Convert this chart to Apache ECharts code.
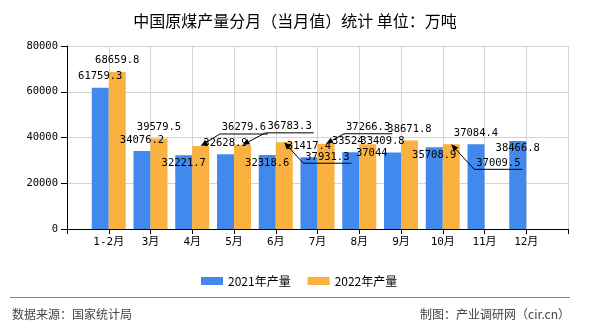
<!DOCTYPE html>
<html>
<head>
<meta charset="utf-8">
<script src="https://cdn.jsdelivr.net/npm/echarts@6/dist/echarts.min.js"></script>
<style>
html,body{margin:0;padding:0;background:#fff;}
#c{width:590px;height:330px;}
</style>
</head>
<body>
<div id="c"></div>
<script>
// ---- data ----
const months = ['1-2月','3月','4月','5月','6月','7月','8月','9月','10月','11月','12月'];
const output2021 = [61759.3, 34076.2, 32221.7, 32628.9, 32318.6, 31417.4, 33524, 33409.8, 35708.9, 37084.4, 38466.8];
const output2022 = [68659.8, 39579.5, 36279.6, 36783.3, 37931.3, 37266.3, 37044, 38671.8, 37009.5];
const seriesNames = ['2021年产量', '2022年产量'];
const yTicks = [0, 20000, 40000, 60000, 80000];

// ---- styling / layout config ----
const COLORS = ['#4289EE', '#FBB13F'];
const MONO = "'DejaVu Sans Mono', 'Noto Sans CJK SC', monospace";
const SANS = "'Noto Sans CJK SC', 'Noto Sans', sans-serif";
const BAR_W = 17;
const VAL_FONT = 10.5;
// label nudges (dx, dy) per series / month
const labelShift = {
  0: {'4月': [0, 19], '6月': [0, 19], '8月': [-3, 0], '9月': [-10, 0], '10月': [0, 19], '12月': [0, 19]},
  1: {'8月': [4, 20]}
};
// callout elbow offsets relative to bar top (2022 series)
const calloutOffset = {'4月': [19, -12], '5月': [23, -12], '6月': [19, 21], '7月': [18, -10], '10月': [23, 25]};

const axisCats = [''].concat(months, ['']);
const pad = (arr) => [null].concat(arr, new Array(axisCats.length - 1 - arr.length).fill(null));

const data2021 = pad(output2021);
const data2022 = pad(output2022.map((v, i) =>
  calloutOffset[months[i]] ? {value: v, label: {show: false}} : v));

const calloutData = Object.keys(calloutOffset).map(m => [m, output2022[months.indexOf(m)]]);

const chart = echarts.init(document.getElementById('c'));

function labelLayoutFor(si) {
  return function (p) {
    const m = axisCats[p.dataIndex];
    const s = labelShift[si][m];
    return s ? {dx: s[0], dy: s[1]} : {};
  };
}

chart.setOption({
  animation: false,
  backgroundColor: '#fff',
  title: {
    text: '中国原煤产量分月（当月值）统计 单位：万吨',
    left: 'center',
    top: 8,
    textStyle: {fontFamily: SANS, fontSize: 16, fontWeight: 'normal', color: '#000'}
  },
  legend: {
    data: seriesNames,
    left: 196,
    top: 270,
    icon: 'rect',
    itemWidth: 22,
    itemHeight: 8,
    itemGap: 17,
    textStyle: {fontFamily: SANS, fontSize: 12, color: '#000'}
  },
  grid: {left: 67, right: 22, top: 46, bottom: 101, containLabel: false},
  xAxis: {
    type: 'category',
    data: axisCats,
    boundaryGap: false,
    axisLine: {lineStyle: {color: '#000', width: 1}},
    axisTick: {show: true, length: 5, lineStyle: {color: '#000'}},
    axisLabel: {interval: 0, margin: 8, fontFamily: MONO, fontSize: 11, color: '#000'},
    splitLine: {show: true, lineStyle: {color: '#d4d4d4', width: 1}}
  },
  yAxis: {
    type: 'value',
    min: yTicks[0],
    max: yTicks[yTicks.length - 1],
    interval: yTicks[1] - yTicks[0],
    axisLine: {show: true, lineStyle: {color: '#000', width: 1}},
    axisTick: {show: true, length: 6, lineStyle: {color: '#000'}},
    axisLabel: {margin: 9, fontFamily: MONO, fontSize: VAL_FONT, color: '#000',
                formatter: (v) => String(v)},
    splitLine: {show: true, lineStyle: {color: '#d4d4d4', width: 1}}
  },
  series: [
    {
      name: seriesNames[0],
      type: 'bar',
      data: data2021,
      barWidth: BAR_W,
      barGap: '0%',
      itemStyle: {color: COLORS[0]},
      label: {show: true, position: 'top', distance: 6, fontFamily: MONO, fontSize: VAL_FONT, color: '#000'},
      labelLayout: labelLayoutFor(0)
    },
    {
      name: seriesNames[1],
      type: 'bar',
      data: data2022,
      barWidth: BAR_W,
      barGap: '0%',
      itemStyle: {color: COLORS[1]},
      label: {show: true, position: 'top', distance: 6, fontFamily: MONO, fontSize: VAL_FONT, color: '#000'},
      labelLayout: labelLayoutFor(1)
    },
    {
      name: 'callouts',
      type: 'custom',
      silent: true,
      z: 10,
      data: calloutData,
      renderItem: function (params, api) {
        const cat = api.value(0);
        const val = api.value(1);
        const c = api.coord([cat, val]);
        const tip = [c[0] + BAR_W / 2, c[1]];
        const off = calloutOffset[axisCats[cat]];
        const elbow = [tip[0] + off[0], tip[1] + off[1]];
        const txt = String(val);
        const tw = txt.length * VAL_FONT * 0.602;
        const end = [elbow[0] + tw + 4, elbow[1]];
        let dx = tip[0] - elbow[0], dy = tip[1] - elbow[1];
        const L = Math.sqrt(dx * dx + dy * dy) || 1;
        dx /= L; dy /= L;
        const al = 7, aw = 3;
        const bx = tip[0] - dx * al, by = tip[1] - dy * al;
        return {
          type: 'group',
          children: [
            {type: 'polyline', shape: {points: [[bx, by], elbow, end]},
             style: {stroke: '#000', lineWidth: 1, fill: null}},
            {type: 'polygon', shape: {points: [tip, [bx - dy * aw, by + dx * aw], [bx + dy * aw, by - dx * aw]]},
             style: {fill: '#000'}},
            {type: 'text', x: elbow[0] + 2, y: elbow[1] - 1,
             style: {text: txt, fontFamily: MONO, fontSize: VAL_FONT, fill: '#000',
                     textAlign: 'left', textVerticalAlign: 'bottom'}}
          ]
        };
      }
    }
  ],
  graphic: [
    {type: 'line', shape: {x1: 10, y1: 297.5, x2: 570, y2: 297.5}, style: {stroke: '#888', lineWidth: 1}},
    {type: 'text', left: 12, top: 308, style: {text: '数据来源：国家统计局', fontFamily: SANS, fontSize: 12, fill: '#444'}},
    {type: 'text', right: 20, top: 308, style: {text: '制图：产业调研网（cir.cn）', fontFamily: SANS, fontSize: 12, fill: '#444'}}
  ]
});
</script>
</body>
</html>
